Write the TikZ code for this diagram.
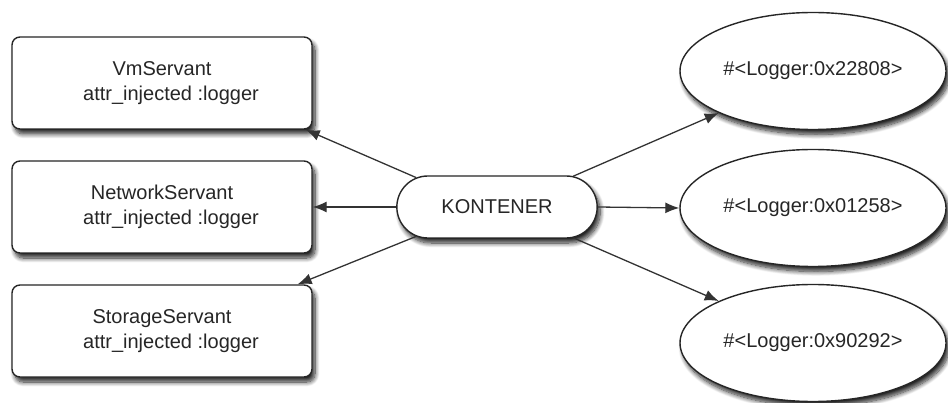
\documentclass[tikz,border=0pt]{standalone}
\usepackage{fontspec}
\setmainfont{Liberation Sans}
\usetikzlibrary{shapes.geometric,shapes.misc,arrows.meta,shadows.blur}
\tikzset{
  shd/.style={blur shadow={shadow xshift=3pt,shadow yshift=-5pt,shadow blur radius=4.5pt,shadow blur steps=10,shadow opacity=85}},
  servant/.style={draw=black!85,line width=1.4pt,fill=white,rounded corners=8pt,minimum width=300pt,minimum height=92pt,align=center,font=\fontsize{20}{25}\selectfont,text=black!85,shd},
  logger/.style={draw=black!85,line width=1.4pt,fill=white,ellipse,minimum width=266pt,minimum height=117pt,inner sep=0pt,font=\fontsize{20}{25}\selectfont,text=black!85,shd},
  cont/.style={draw=black!85,line width=1.4pt,fill=white,rounded rectangle,minimum width=207pt,minimum height=62pt,font=\fontsize{20}{25}\selectfont,text=black!85,shd},
  conn/.style={draw=black!80,line width=1.3pt,-{Latex[length=14pt,width=11pt]}}
}
\begin{document}
\begin{tikzpicture}[x=1pt,y=-1pt]
\useasboundingbox (0,0) rectangle (948,403);
\node[servant] (vm) at (162,83) {VmServant\\\hspace*{18pt}attr\_injected :logger};
\node[servant] (net) at (162,207) {NetworkServant\\\hspace*{18pt}attr\_injected :logger};
\node[servant] (st) at (162,331) {StorageServant\\\hspace*{18pt}attr\_injected :logger};
\node[cont] (k) at (497,207) {KONTENER};
\node[logger] (e1) at (813,71) {\#<Logger:0x22808>};
\node[logger] (e2) at (813,208) {\#<Logger:0x01258>};
\node[logger] (e3) at (813,343) {\#<Logger:0x90292>};
\draw[conn] (k.160) -- (vm.-18);
\draw[conn] (k.west) -- (net.east);
\draw[conn] (k.200) -- (st.19.5);
\draw[conn] (k.22) -- (e1.204);
\draw[conn] (k.east) -- (e2.west);
\draw[conn] (k.-22) -- (e3.156);
\end{tikzpicture}
\end{document}
